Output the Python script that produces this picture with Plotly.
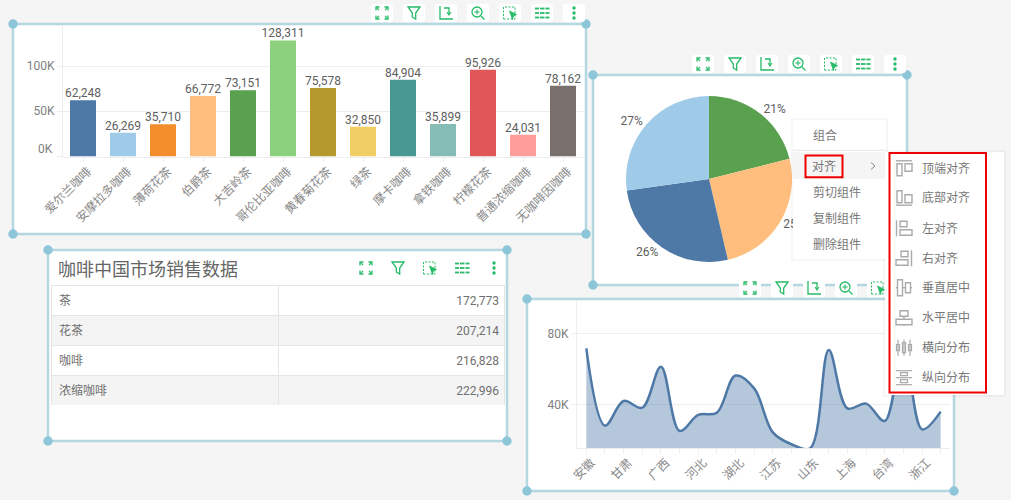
import plotly.graph_objects as go

W, H = 1011, 500
FONT = '"Open Sans", "Noto Sans CJK SC", sans-serif'
NUMFONT = 'Roboto, "Noto Sans CJK SC", sans-serif'

# ---------- data ----------
bar_categories = ["爱尔兰咖啡", "安摩拉多咖啡", "薄荷花茶", "伯爵茶", "大吉岭茶", "哥伦比亚咖啡", "黄春菊花茶",
                  "绿茶", "摩卡咖啡", "拿铁咖啡", "柠檬花茶", "普通浓缩咖啡", "无咖啡因咖啡"]
bar_values = [62248, 26269, 35710, 66772, 73151, 128311, 75578, 32850, 84904, 35899, 95926, 24031, 78162]
bar_colors = ["#4e79a7", "#a0cbe8", "#f28e2b", "#ffbe7d", "#59a14f", "#8cd17d", "#b6992d",
              "#f1ce63", "#499894", "#86bcb6", "#e15759", "#ff9d9a", "#79706e"]
bar_tickvals = [0, 50000, 100000]
bar_ticktext = ["", "50K", "100K"]

table_names = ["茶", "花茶", "咖啡", "浓缩咖啡"]
table_values = [172773, 207214, 216828, 222996]
pie_colors = ["#59a14f", "#ffbe7d", "#4e79a7", "#a0cbe8"]

line_categories = ["安徽", "福建", "甘肃", "广东", "广西", "海南", "河北", "河南", "湖北", "湖南",
                   "江苏", "江西", "山东", "山西", "上海", "四川", "台湾", "云南", "浙江", "重庆"]
line_values = [71500, 28000, 41900, 38100, 61200, 25000, 34000, 35300, 56200, 49000,
               24200, 17500, 15200, 70600, 37700, 40400, 30600, 73000, 25900, 35900]
line_ticktext = ["安徽", "", "甘肃", "", "广西", "", "河北", "", "湖北", "",
                 "江苏", "", "山东", "", "上海", "", "台湾", "", "浙江", ""]
line_tickvals = [40000, 80000]
line_tick_labels = ["40K", "80K"]

table_title = "咖啡中国市场销售数据"
menu_items = ["组合", "对齐", "剪切组件", "复制组件", "删除组件"]
submenu_items = ["顶端对齐", "底部对齐", "左对齐", "右对齐", "垂直居中", "水平居中", "横向分布", "纵向分布"]

# ---------- helpers ----------
def X(p): return p / W
def Y(p): return 1 - p / H

def path(pts, close=False):
    s = "M " + " L ".join(f"{X(x):.5f} {Y(y):.5f}" for x, y in pts)
    return s + (" Z" if close else "")

shapes, annotations = [], []

def rect(x0, y0, x1, y1, fill=None, line=None, lw=1, layer="below", dash=None):
    ln = dict(width=lw if line else 0)
    if line: ln["color"] = line
    if dash: ln["dash"] = dash
    shapes.append(dict(type="rect", xref="paper", yref="paper", x0=X(x0), x1=X(x1), y0=Y(y1), y1=Y(y0),
                       fillcolor=fill or "rgba(0,0,0,0)", line=ln, layer=layer))

def rrect(x0, y0, x1, y1, r, fill):
    pts = (f"M {X(x0+r):.5f} {Y(y0):.5f} L {X(x1-r):.5f} {Y(y0):.5f} Q {X(x1):.5f} {Y(y0):.5f} {X(x1):.5f} {Y(y0+r):.5f} "
           f"L {X(x1):.5f} {Y(y1-r):.5f} Q {X(x1):.5f} {Y(y1):.5f} {X(x1-r):.5f} {Y(y1):.5f} "
           f"L {X(x0+r):.5f} {Y(y1):.5f} Q {X(x0):.5f} {Y(y1):.5f} {X(x0):.5f} {Y(y1-r):.5f} "
           f"L {X(x0):.5f} {Y(y0+r):.5f} Q {X(x0):.5f} {Y(y0):.5f} {X(x0+r):.5f} {Y(y0):.5f} Z")
    shapes.append(dict(type="path", xref="paper", yref="paper", path=pts, fillcolor=fill,
                       line=dict(width=0), layer="below"))

def circle(cx, cy, r, fill=None, line=None, lw=1, layer="below"):
    ln = dict(width=lw if line else 0)
    if line: ln["color"] = line
    shapes.append(dict(type="circle", xref="paper", yref="paper", x0=X(cx-r), x1=X(cx+r), y0=Y(cy+r), y1=Y(cy-r),
                       fillcolor=fill or "rgba(0,0,0,0)", line=ln, layer=layer))

def stroke(pts, color, lw=1.5, layer="below", close=False, fill=None, dash=None):
    ln = dict(color=color, width=lw)
    if dash: ln["dash"] = dash
    shapes.append(dict(type="path", xref="paper", yref="paper", path=path(pts, close),
                       fillcolor=fill or "rgba(0,0,0,0)", line=ln, layer=layer))

def label(x, y, text, size=12, color="#777777", anchor="left", family=FONT):
    annotations.append(dict(x=X(x), y=Y(y), xref="paper", yref="paper", text=text, showarrow=False,
                            xanchor=anchor, yanchor="middle", align=anchor,
                            font=dict(family=family, size=size, color=color)))

BORDER, HANDLE = "#b4d7e2", "#8dc6d9"
def panel(x0, y0, x1, y1):
    rect(x0, y0, x1, y1, fill="#ffffff", line=BORDER, lw=2.5)
    for hx in (x0, x1):
        for hy in (y0, y1):
            circle(hx, hy, 4.7, fill=HANDLE)

# ---------- toolbar icons ----------
G = "#25bb67"
def ic_expand(c, d):
    for sx in (-1, 1):
        for sy in (-1, 1):
            stroke([(c+sx*6, d+sy*2.5), (c+sx*6, d+sy*6), (c+sx*2.5, d+sy*6)], G, 1.3)
            stroke([(c+sx*5, d+sy*5), (c+sx*3, d+sy*3)], G, 1.1)
def ic_filter(c, d):
    stroke([(c-6, d-6), (c+6, d-6), (c+1.7, d), (c+1.7, d+6), (c-1.7, d+4), (c-1.7, d)], G, 1.3, close=True)
def ic_swap(c, d):
    stroke([(c-6, d-7), (c-6, d+6), (c+7, d+6)], G, 1.3)
    stroke([(c-2, d-5), (c+3, d-5), (c+3, d+2)], G, 1.3)
    stroke([(c+1, d-1), (c+3, d+2), (c+5, d-1)], G, 1.1)
def ic_zoom(c, d):
    circle(c-1, d-1, 5, line=G, lw=1.3)
    stroke([(c-3.5, d-1), (c+1.5, d-1)], G, 1.1)
    stroke([(c-1, d-3.5), (c-1, d+1.5)], G, 1.1)
    stroke([(c+3, d+3), (c+6.5, d+6.5)], G, 1.3)
def ic_select(c, d):
    rect(c-6.5, d-6, c+5, d+6, line=G, lw=1, dash="2px,1.5px")
    stroke([(c-0.5, d-2), (c+6.5, d+1.5), (c+3.5, d+2.8), (c+2.5, d+6.5)], G, 0.8, close=True, fill=G)
def ic_list(c, d):
    for yy in (-4.5, 0, 4.5):
        for a, b in ((-7, -3), (-2, 2.5), (3.5, 7.5)):
            stroke([(c+a, d+yy), (c+b, d+yy)], G, 1.8)
def ic_dots(c, d):
    for yy in (-5, 0, 5):
        circle(c, d+yy, 1.7, fill=G)

def toolbar(centers, y0, y1, icons):
    for cx, fn in zip(centers, icons):
        rrect(cx-11, y0, cx+11, y1, 3, "#ffffff")
        fn(cx, (y0+y1)/2)

# ---------- panels ----------
panel(13, 24, 586, 234)
panel(593, 75, 907, 285)
panel(48, 250, 507, 441)
panel(527, 299, 954, 491)

full = [ic_expand, ic_filter, ic_swap, ic_zoom, ic_select, ic_list, ic_dots]
toolbar([382, 414, 446, 478, 510, 542, 574], 4, 22, full)
toolbar([703, 735, 767, 799, 831, 863, 895], 55, 73, full)
toolbar([366, 398, 430, 462, 494], 259, 277, [ic_expand, ic_filter, ic_select, ic_list, ic_dots])
toolbar([750, 782, 814, 846, 878], 279, 297, full[:5])

label(56, 269, table_title, size=18, color="#666666")
label(55, 149, "0K", color="#808080", anchor="right", family=NUMFONT)

# ---------- context menu (above charts) ----------
A = "above"
rect(791, 118, 888, 261, fill="rgba(0,0,0,0.03)", layer=A)
rect(883, 150, 1006, 397, fill="rgba(0,0,0,0.03)", layer=A)
rect(793, 120, 886, 259, fill="#ffffff", layer=A)
stroke([(793, 150.3), (886, 150.3)], "#e6e6e6", 1, layer=A)
rect(793, 152.3, 886, 179, fill="#f5f5f5", layer=A)
rect(885, 152, 1004, 395, fill="#ffffff", layer=A)
rect(805.5, 155.5, 842.5, 177.3, line="#ee0000", lw=2, layer=A)
rect(889.5, 153, 986, 392.5, line="#ee0000", lw=2, layer=A)
stroke([(871, 162.5), (875, 166), (871, 169.5)], "#888888", 1, layer=A)

for text, y, x in zip(menu_items, [135.7, 166, 192.7, 218.7, 244.3], [811, 810, 811, 811, 811]):
    label(x, y, text)
sub_y = [168.3, 197.7, 228.3, 258.3, 287.7, 317.7, 347.7, 377.7]
for text, y in zip(submenu_items, sub_y):
    label(920, y, text)

GR = "#aaaaaa"
def r(c, d, a, b, e, f, lw=1.4):
    rect(c+a, d+b, c+e, d+f, line=GR, lw=lw, layer=A)
def l(c, d, a, b, e, f, lw=1.4):
    stroke([(c+a, d+b), (c+e, d+f)], GR, lw, layer=A)
c = 904
d = sub_y[0]; l(c, d, -8, -7.5, 8, -7.5); r(c, d, -7, -4.5, -2, 7.5); r(c, d, 1, -4.5, 8, 3)
d = sub_y[1]; l(c, d, -8, 7.5, 8, 7.5); r(c, d, -7, -7, -2, 5); r(c, d, 1, -3, 8, 5)
d = sub_y[2]; l(c, d, -7.5, -8, -7.5, 8); r(c, d, -4, -7, 3, -1.5); r(c, d, -4, 1.5, 8, 7)
d = sub_y[3]; l(c, d, 7.5, -8, 7.5, 8); r(c, d, -3, -7, 4, -1.5); r(c, d, -8, 1.5, 4, 7)
d = sub_y[4]; l(c, d, -8, 0, -6.5, 0); l(c, d, -1.5, 0, 1.5, 0); l(c, d, 6.5, 0, 8, 0); r(c, d, -6.5, -8, -1.5, 8); r(c, d, 1.5, -5, 6.5, 5)
d = sub_y[5]; l(c, d, 0, -8, 0, -7); l(c, d, 0, -1.5, 0, 1.5); l(c, d, 0, 7, 0, 8); r(c, d, -4, -7, 4, -1.5); r(c, d, -8, 1.5, 8, 7)
d = sub_y[6]
for dx, h in ((-6, 3), (0, 5), (6, 3)):
    l(c, d, dx, -8, dx, 8, 1.2); r(c, d, dx-1.5, -h, dx+1.5, h, 1.2)
d = sub_y[7]
for dy in (-7, 0, 7):
    l(c, d, -8, dy, 8, dy, 1.2)
r(c, d, -3.5, -5, 3.5, -2, 1.2); r(c, d, -3.5, 2, 3.5, 5, 1.2)

# ---------- figure ----------
fig = go.Figure()
AX = "#eeeeee"
TICK = dict(family=FONT, size=12, color="#888888")
NUM = dict(family=NUMFONT, size=12, color="#808080")
VAL = dict(family=NUMFONT, size=12, color="#606060")

# bar chart
fig.add_trace(go.Bar(x=bar_categories, y=bar_values, marker=dict(color=bar_colors, line=dict(width=0)),
                     width=0.65, xaxis="x", yaxis="y"))
fig.add_trace(go.Scatter(x=bar_categories, y=bar_values, mode="text", texttemplate="%{y:,}",
                         textposition="top center", cliponaxis=False, textfont=VAL, xaxis="x", yaxis="y"))

# pie
fig.add_trace(go.Pie(labels=table_names, values=table_values, sort=False, direction="clockwise", rotation=0,
                     marker=dict(colors=pie_colors, line=dict(width=0)), texttemplate="%{percent:.0%}",
                     textposition="outside", outsidetextfont=VAL,
                     automargin=False, showlegend=False,
                     domain=dict(x=[X(626), X(792)], y=[Y(262), Y(96)])))

# table: grid and fills
fig.add_trace(go.Table(domain=dict(x=[X(51), X(504)], y=[Y(405), Y(285)]), columnwidth=[227, 226],
                       header=dict(values=["", ""], height=0, line=dict(width=0), fill=dict(color="rgba(0,0,0,0)")),
                       cells=dict(values=[[""] * len(table_names)] * 2, height=30,
                                  line=dict(color="#e5e5e5", width=1),
                                  fill=dict(color=[["#ffffff", "#f4f4f4", "#ffffff", "#f4f4f4"]] * 2))))
# table: cell text
fig.add_trace(go.Table(domain=dict(x=[X(51), X(507)], y=[Y(408), Y(288)]), columnwidth=[227, 229],
                       header=dict(values=["", ""], height=0, line=dict(width=0), fill=dict(color="rgba(0,0,0,0)")),
                       cells=dict(values=[table_names, table_values], format=["", ","], height=30,
                                  align=["left", "right"], line=dict(color="rgba(0,0,0,0)", width=0),
                                  fill=dict(color="rgba(0,0,0,0)"),
                                  font=dict(family=NUMFONT, size=12, color="#707070"))))

# area line
fig.add_trace(go.Scatter(x=line_categories, y=line_values, mode="lines", fill="tozeroy",
                         fillcolor="rgba(78,121,167,0.42)",
                         line=dict(color="#4e79a7", width=2.5, shape="spline", smoothing=1),
                         xaxis="x2", yaxis="y2"))

fig.update_layout(
    width=W, height=H, margin=dict(l=0, r=0, t=0, b=0, autoexpand=False), paper_bgcolor="#f5f5f5", plot_bgcolor="rgba(0,0,0,0)",
    showlegend=False, shapes=shapes, annotations=annotations, font=dict(family=FONT),
    xaxis=dict(domain=[X(63), X(583)], anchor="y", type="category", categoryorder="array", categoryarray=bar_categories,
               range=[-0.5, 12.5], tickangle=-45, tickfont=TICK, ticks="outside", ticklen=4, tickcolor=AX, showline=True, linecolor=AX,
               ticklabelshift=5, ticklabelstandoff=-2,
               showgrid=False, zeroline=False, fixedrange=True),
    yaxis=dict(domain=[Y(156.5), Y(26)], anchor="x", range=[0, 144200], tickvals=bar_tickvals, ticktext=bar_ticktext,
               tickfont=NUM, ticks="outside", ticklen=5, tickcolor=AX, showline=True, linecolor=AX,
               showgrid=True, gridcolor=AX, zeroline=False, fixedrange=True),
    xaxis2=dict(domain=[X(577), X(950)], anchor="y2", type="category", categoryorder="array", categoryarray=line_categories,
                range=[-0.5, 19.5], tickmode="array", tickvals=line_categories, ticktext=line_ticktext, tickangle=-45,
                tickfont=TICK, ticks="outside", ticklen=4, tickcolor=AX, showline=True, linecolor=AX,
                ticklabelshift=5, ticklabelstandoff=-2,
                showgrid=False, zeroline=False, fixedrange=True),
    yaxis2=dict(domain=[Y(448), Y(301)], anchor="x2", range=[15400, 98200], tickvals=line_tickvals,
                ticktext=line_tick_labels, tickfont=NUM, ticks="outside", ticklen=5, tickcolor=AX, showline=True,
                linecolor=AX, showgrid=True, gridcolor=AX, zeroline=False, fixedrange=True),
)

fig.write_html("out.html", config=dict(displayModeBar=False),
               post_script="document.body.style.margin='0';document.documentElement.style.overflow='hidden';")
